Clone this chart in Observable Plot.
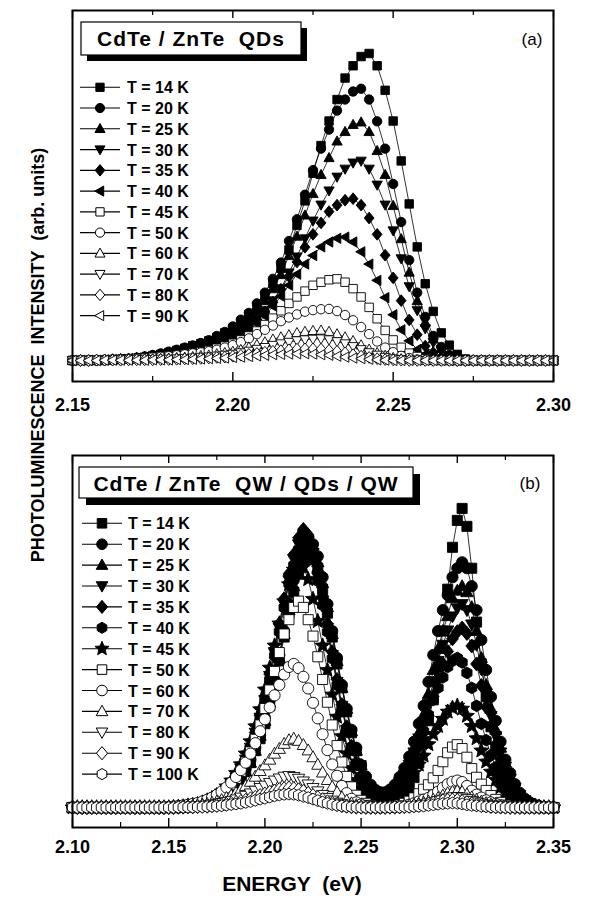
<!DOCTYPE html>
<html><head><meta charset="utf-8">
<script src="https://cdn.jsdelivr.net/npm/d3@7"></script>
<script src="https://cdn.jsdelivr.net/npm/@observablehq/plot@0.6"></script>
<style>
body{margin:0;background:#fff;}
#wrap{position:relative;width:600px;height:898px;overflow:hidden;background:#fff;font-family:"Liberation Sans",Arial,sans-serif;}
#wrap svg{position:absolute;left:0;}
</style></head><body><div id="wrap"></div>
<script>
// ---------- DATA ----------
const energyA = [2.15,2.1525,2.155,2.1575,2.16,2.1625,2.165,2.1675,2.17,2.1725,2.175,2.1775,2.18,2.1825,2.185,2.1875,2.19,2.1925,2.195,2.1975,2.2,2.2025,2.205,2.2075,2.21,2.2125,2.215,2.2175,2.22,2.2225,2.225,2.2275,2.23,2.2325,2.235,2.2375,2.24,2.2425,2.245,2.2475,2.25,2.2525,2.255,2.2575,2.26,2.2625,2.265,2.2675,2.27,2.2725,2.275,2.2775,2.28,2.2825,2.285,2.2875,2.29,2.2925,2.295,2.2975,2.3];
const a14 = [0,0,0,0,0,0.2,0.3,0.5,0.7,1,1.5,2,2.6,3.3,4,4.8,5.5,6.4,7.5,9,10.5,12.5,15,17.5,21,25,30,36,44,52,61,70,78,85,92,96,99,100,96,88,78,65,51,37,25,16,9,5,2,0.5,0,0,0,0,0,0,0,0,0,0,0];
const a20 = [0,0,0,0,0.2,0.3,0.4,0.6,0.9,1.3,1.8,2.3,2.9,3.5,4.2,4.9,5.7,6.6,8,9.3,11.1,13.3,15.5,18.6,22.1,26.6,31.9,38.9,46,54,62,69,75.2,81.4,85,87.6,88.5,85,77.9,69,57.5,45.1,32.7,22.1,14.2,8,4.4,1.8,0.4,0,0,0,0,0,0,0,0,0,0,0,0];
const a25 = [0,0,0,0,0.2,0.2,0.4,0.5,0.8,1.2,1.6,2,2.6,3.1,3.7,4.3,5,5.8,7,8.1,9.7,11.6,13.6,16.3,19.4,23.3,27.9,34.1,40.4,47.3,54.3,60.5,66,71.4,74.5,76.8,77.6,74.5,68.3,60.5,50.4,39.6,28.7,19.4,12.4,7,3.9,1.6,0.4,0,0,0,0,0,0,0,0,0,0,0,0];
const a30 = [0,0,0,0,0.1,0.2,0.3,0.5,0.7,1,1.3,1.7,2.1,2.6,3.1,3.6,4.2,4.9,5.9,6.8,8.1,9.8,11.4,13.7,16.3,19.5,23.4,28.6,33.8,39.7,45.5,50.7,55.3,59.8,62.4,64.4,65,62.4,57.2,50.7,42.3,33.2,24.1,16.3,10.4,5.9,3.3,1.3,0.3,0,0,0,0,0,0,0,0,0,0,0,0];
const a35 = [0,0,0,0.1,0.2,0.3,0.4,0.5,0.8,1.1,1.4,1.7,2.1,2.5,2.9,3.4,4,4.7,5.5,6.6,7.9,9.2,11.1,13.2,15.8,19,23.2,27.4,32.1,36.9,41.1,44.8,48.5,50.6,52.2,52.7,50.6,46.4,41.1,34.3,26.9,19.5,13.2,8.4,4.7,2.6,1.1,0.3,0,0,0,0,0,0,0,0,0,0,0,0,0];
const a40 = [0,0,0.1,0.1,0.2,0.3,0.4,0.6,0.8,1,1.3,1.6,1.9,2.2,2.6,3,3.6,4.2,5,6,7,8.4,10,12.1,14.5,17.7,20.9,24.5,28.1,31.4,34.2,37,38.6,39.8,40.2,38.6,35.4,31.4,26.1,20.5,14.9,10,6.4,3.6,2,0.8,0.2,0,0,0,0,0,0,0,0,0,0,0,0,0,0];
const a45 = [0,0.1,0.1,0.1,0.2,0.3,0.4,0.5,0.7,0.9,1.1,1.3,1.5,1.7,2,2.4,2.8,3.3,4,4.7,5.6,6.7,8,9.6,11.7,13.8,16.2,18.6,20.7,22.6,24.5,25.5,26.3,26.6,25.5,23.4,20.7,17.3,13.6,9.8,6.7,4.3,2.4,1.3,0.5,0.1,0,0,0,0,0,0,0,0,0,0,0,0,0,0,0];
const a50 = [0,0.1,0.1,0.2,0.2,0.3,0.4,0.5,0.6,0.8,1,1.2,1.4,1.7,2,2.3,2.6,3,3.5,4.2,5,6,7.2,8.6,10,11.4,12.8,14,15,15.9,16.4,16.7,16.8,16.1,14.8,13.1,10.9,8.6,6.2,4.2,2.7,1.5,0.8,0.3,0.1,0,0,0,0,0,0,0,0,0,0,0,0,0,0,0,0];
const a60 = [0,0.1,0.1,0.1,0.2,0.2,0.3,0.3,0.4,0.5,0.5,0.6,0.7,0.9,1,1.2,1.5,1.7,2.1,2.5,2.9,3.5,4.3,5.1,6,6.9,7.6,8.3,9,9.4,9.7,9.8,9.4,8.6,7.6,6.4,5,3.6,2.5,1.6,0.9,0.5,0.2,0.1,0,0,0,0,0,0,0,0,0,0,0,0,0,0,0,0,0];
const a70 = [0,0,0.1,0.1,0.1,0.1,0.2,0.2,0.3,0.3,0.4,0.5,0.5,0.6,0.7,0.9,1.1,1.2,1.5,1.8,2.1,2.6,3.1,3.7,4.3,5,5.5,6,6.5,6.8,7,7.1,6.8,6.2,5.5,4.6,3.6,2.6,1.8,1.1,0.6,0.4,0.1,0,0,0,0,0,0,0,0,0,0,0,0,0,0,0,0,0,0];
const a80 = [0,0,0,0.1,0.1,0.1,0.1,0.2,0.2,0.2,0.2,0.3,0.3,0.4,0.5,0.6,0.7,0.8,1,1.1,1.4,1.7,2,2.3,2.7,3,3.2,3.5,3.7,3.8,3.8,3.7,3.3,3,2.5,1.9,1.4,1,0.6,0.3,0.2,0.1,0,0,0,0,0,0,0,0,0,0,0,0,0,0,0,0,0,0,0];
const a90 = [0,0,0,0,0.1,0.1,0.1,0.1,0.1,0.1,0.2,0.2,0.2,0.3,0.3,0.4,0.5,0.6,0.7,0.8,1,1.1,1.3,1.5,1.7,1.9,2,2.1,2.2,2.2,2.1,1.9,1.7,1.4,1.1,0.8,0.6,0.4,0.2,0.1,0,0,0,0,0,0,0,0,0,0,0,0,0,0,0,0,0,0,0,0,0];

const energyB = [2.1,2.1025,2.105,2.1075,2.11,2.1125,2.115,2.1175,2.12,2.1225,2.125,2.1275,2.13,2.1325,2.135,2.1375,2.14,2.1425,2.145,2.1475,2.15,2.1525,2.155,2.1575,2.16,2.1625,2.165,2.1675,2.17,2.1725,2.175,2.1775,2.18,2.1825,2.185,2.1875,2.19,2.1925,2.195,2.1975,2.2,2.2025,2.205,2.2075,2.21,2.2125,2.215,2.2175,2.22,2.2225,2.225,2.2275,2.23,2.2325,2.235,2.2375,2.24,2.2425,2.245,2.2475,2.25,2.2525,2.255,2.2575,2.26,2.2625,2.265,2.2675,2.27,2.2725,2.275,2.2775,2.28,2.2825,2.285,2.2875,2.29,2.2925,2.295,2.2975,2.3,2.3025,2.305,2.3075,2.31,2.3125,2.315,2.3175,2.32,2.3225,2.325,2.3275,2.33,2.3325,2.335,2.3375,2.34,2.3425,2.345,2.3475,2.35];
const b14 = [0,0,0,0,0,0,0,0,0,0,0,0,0,0,0,0,0,0,0,0,0,0,0,0.1,0.2,0.3,0.6,0.9,1.2,1.7,2.4,3.3,4.3,5.6,7.3,9.5,12,15,19,23,28,34,41,49,57,65,72,78,83,86,84,80,73,65,57,48,40,32,25,19,14,9.5,6.5,4.3,3,2.1,1.8,2.1,2.8,4.2,6.5,10,15,22,29,36,47,59,73,87,96,100,94,80,62,48,37,27,19,13,8,4,2,0.8,0.3,0.1,0,0,0,0,0];
const b20 = [0,0,0,0,0,0,0,0,0,0,0,0,0,0,0,0,0,0,0,0,0,0,0,0.1,0.2,0.4,0.6,0.9,1.3,1.8,2.5,3.4,4.5,5.9,7.7,9.9,13,16,20,24,30,36,43,51,59,68,76,82,87,90,88,84,77,68,59,50,41,33,26,20,14.2,10.4,7.6,5.9,5.1,5.1,6,7.6,10.2,13.2,17,22,28,34,42,51,59,66,71,77,80,82,80,74,66,56,46,37,29,22,16,11.5,7.8,4.9,3,1.8,1,0.5,0.2,0.1,0];
const b25 = [0,0,0,0,0,0,0,0,0,0,0,0,0,0,0,0,0,0,0,0,0,0,0,0.1,0.2,0.4,0.6,0.9,1.2,1.8,2.5,3.3,4.4,5.7,7.5,9.7,12,15,19,24,29,35,42,50,58,66,74,80,85,88,86,82,75,67,58,49,40,33,25.5,19,14.2,10.1,7.3,5.7,4.8,4.8,5.5,6.9,9.3,12.2,15.5,20,25,31,38,46,53,59,64,70,72.5,74,72,67,59,50,41,33,26,20,15,10.4,7,4.4,2.7,1.6,0.9,0.4,0.2,0.1,0];
const b30 = [0,0,0,0,0,0,0,0,0,0,0,0,0,0,0,0,0,0,0,0,0,0,0.1,0.2,0.4,0.6,0.9,1.3,1.8,2.5,3.5,4.6,5.9,7.7,10,13,16,20,25,30,36,44,52,60,68,76,83,88,91,89,85,77,69,60,51,42,34,26,20,14.7,10.2,7.2,5.3,4.1,3.6,3.8,4.7,6.2,8.4,10.9,14.3,18.4,23.1,28.6,34.7,42.2,49,54.4,59.2,63.9,66.6,68,66,61.2,54.4,46.2,38.1,30.6,23.8,18.4,13.6,9.5,6.5,4.1,2.5,1.5,0.8,0.4,0.2,0.1,0];
const b35 = [0,0,0,0,0,0,0,0,0,0,0,0,0,0,0,0,0,0,0,0,0,0,0.1,0.2,0.4,0.7,0.9,1.3,1.9,2.6,3.5,4.7,6,7.9,10.2,13,16.3,20.5,25.1,30.7,37.2,44.6,53,61.4,69.8,78.1,84.6,90.2,93,91.1,86.5,79,70.7,61.4,52.1,42.8,34.4,27,20.5,15,10.4,7.4,5.3,4,3.5,3.5,4.3,5.5,7.4,9.6,12.6,16.2,20.4,25.2,30.6,37.2,43.2,48,52.2,56.4,58.8,60,58.2,54,48,40.8,33.6,27,21,16.2,12,8.4,5.7,3.6,2.2,1.3,0.7,0.4,0.2,0.1,0];
const b40 = [0,0,0,0,0,0,0,0,0,0,0,0,0,0,0,0,0,0,0,0,0,0,0.1,0.2,0.4,0.6,0.9,1.2,1.8,2.5,3.4,4.5,5.8,7.6,9.8,12.5,15.6,19.6,24,29.4,35.6,42.7,50.7,58.7,66.8,74.8,81,86.3,89,87.2,82.8,75.7,67.6,58.7,49.8,40.9,32.9,25.8,19.7,14.4,10.1,7.2,5.4,4.2,3.8,4.1,4.9,6.4,8.2,10.5,13.5,17,21,25.5,31,36,40,43.5,47,49,50,48.5,45,40,34,28,22.5,17.5,13.5,10,7,4.8,3,1.9,1.1,0.6,0.3,0.2,0.1,0,0];
const b45 = [0,0,0,0,0,0,0,0,0,0,0,0,0,0,0,0,0,0,0,0,0,0.1,0.2,0.3,0.6,0.8,1.1,1.6,2.3,3.1,4.1,5.3,7,9,11.5,14.4,18,22.1,27.1,32.8,39.4,46.7,54.1,61.5,68.9,74.6,79.5,82,80.4,76.3,69.7,62.3,54.1,45.9,37.7,30.3,23.8,18,13.1,9.1,6.4,4.4,3.2,2.5,2.4,2.6,3.2,4.3,5.4,7.1,9.2,11.6,14.3,17.3,21.1,24.5,27.2,29.6,32,33.3,34,33,30.6,27.2,23.1,19,15.3,11.9,9.2,6.8,4.8,3.2,2,1.3,0.7,0.4,0.2,0.1,0,0,0];
const b50 = [0,0,0,0,0,0,0,0,0,0,0,0,0,0,0,0,0,0,0,0,0,0.1,0.1,0.3,0.5,0.7,1,1.4,1.9,2.6,3.5,4.5,5.9,7.6,9.7,12.1,15.2,18.6,22.8,27.6,33.1,39.3,45.5,51.8,58,62.8,66.9,69,66.9,62.8,57.3,50.4,42.8,35.2,27.6,20.7,15.2,10.4,6.9,4.1,2.4,1.4,0.7,0.3,0.2,0.2,0.3,0.5,0.8,1.4,2.1,3.2,4.6,6.1,7.6,9.9,12.4,15.3,18.3,20.2,21,19.7,16.8,13,10.1,7.8,5.7,4,2.7,1.7,0.8,0.4,0.2,0.1,0,0,0,0,0,0,0];
const b60 = [0,0,0,0,0,0,0,0,0,0,0,0,0,0,0,0,0,0,0,0,0.2,0.3,0.5,0.7,0.9,1.2,1.5,2,2.6,3.3,4.2,5.3,6.7,8.3,10.2,12.5,15,18,21.5,25.5,29.5,33.5,37.5,41,44.5,47,48,46.6,43.7,39.8,35,29.8,24.5,19.2,14.4,10.6,7.2,4.8,2.9,1.7,1,0.5,0.2,0.1,0,0.1,0.1,0.2,0.4,0.6,0.9,1.4,2,2.6,3.2,4.2,5.3,6.6,7.8,8.6,9,8.5,7.2,5.6,4.3,3.3,2.4,1.7,1.2,0.7,0.4,0.2,0.1,0,0,0,0,0,0,0,0];
const b70 = [0,0,0,0,0,0,0,0,0,0,0,0,0,0,0,0,0,0,0,0,0.1,0.1,0.2,0.3,0.4,0.6,0.7,1,1.2,1.6,2,2.5,3.2,4,4.9,6,7.2,8.6,10.3,12.2,14.1,16,18,19.6,21.3,22.5,23,22.3,20.9,19.1,16.8,14.3,11.7,9.2,6.9,5.1,3.4,2.3,1.4,0.8,0.5,0.2,0.1,0,0,0,0.1,0.1,0.2,0.4,0.6,0.8,1.2,1.6,2,2.6,3.2,4,4.8,5.3,5.5,5.2,4.4,3.4,2.6,2,1.5,1,0.7,0.4,0.2,0.1,0,0,0,0,0,0,0,0,0];
const b80 = [0,0,0,0,0,0,0,0,0,0,0,0,0,0,0,0,0,0,0,0,0.1,0.1,0.2,0.2,0.3,0.3,0.4,0.6,0.7,0.9,1.2,1.5,1.8,2.2,2.7,3.3,3.9,4.7,5.6,6.5,7.3,8.2,9,9.7,10.3,10.5,10.2,9.6,8.7,7.7,6.5,5.4,4.2,3.2,2.3,1.6,1.1,0.6,0.4,0.2,0.1,0,0,0,0,0,0.1,0.1,0.1,0.2,0.4,0.5,0.8,1,1.3,1.6,2.1,2.6,3,3.4,3.5,3.3,2.8,2.2,1.7,1.3,0.9,0.7,0.5,0.3,0.1,0.1,0,0,0,0,0,0,0,0,0];
const b90 = [0,0,0,0,0,0,0,0,0,0,0,0,0,0,0,0,0,0,0,0,0,0.1,0.1,0.1,0.2,0.2,0.3,0.4,0.4,0.6,0.7,0.9,1.1,1.4,1.7,2,2.4,2.9,3.4,4,4.5,5.1,5.5,6,6.3,6.5,6.3,5.9,5.4,4.7,4,3.3,2.6,1.9,1.4,1,0.6,0.4,0.2,0.1,0.1,0,0,0,0,0,0.1,0.1,0.2,0.3,0.4,0.6,0.7,0.9,1.2,1.5,1.8,2.2,2.4,2.5,2.4,2,1.6,1.2,0.9,0.7,0.5,0.3,0.2,0.1,0.1,0,0,0,0,0,0,0,0,0,0];
const b100 = [0,0,0,0,0,0,0,0,0,0,0,0,0,0,0,0,0,0,0,0,0,0,0.1,0.1,0.1,0.1,0.2,0.2,0.3,0.4,0.5,0.6,0.8,1,1.2,1.4,1.7,2,2.4,2.8,3.1,3.5,3.9,4.2,4.4,4.5,4.4,4.1,3.7,3.3,2.8,2.3,1.8,1.4,1,0.7,0.5,0.3,0.2,0.1,0,0,0,0,0,0,0,0.1,0.1,0.2,0.2,0.3,0.4,0.5,0.7,0.9,1.1,1.3,1.4,1.5,1.4,1.2,0.9,0.7,0.6,0.4,0.3,0.2,0.1,0.1,0,0,0,0,0,0,0,0,0,0,0];

const ticksA = [2.15, 2.20, 2.25, 2.30];
const minorA = [2.175, 2.225, 2.275];
const ticksB = [2.10, 2.15, 2.20, 2.25, 2.30, 2.35];
const minorB = [2.125, 2.175, 2.225, 2.275, 2.325];

const labelsA = ["T = 14 K","T = 20 K","T = 25 K","T = 30 K","T = 35 K","T = 40 K","T = 45 K","T = 50 K","T = 60 K","T = 70 K","T = 80 K","T = 90 K"];
const labelsB = ["T = 14 K","T = 20 K","T = 25 K","T = 30 K","T = 35 K","T = 40 K","T = 45 K","T = 50 K","T = 60 K","T = 70 K","T = 80 K","T = 90 K","T = 100 K"];
const titleA = "CdTe / ZnTe  QDs";
const titleB = "CdTe / ZnTe  QW / QDs / QW";
const yTitle = "PHOTOLUMINESCENCE  INTENSITY  (arb. units)";
const xTitle = "ENERGY  (eV)";

// keep doubled spaces visible in SVG text
const keepSpaces = s => s.replace(/  /g, " \u00a0");

// ---------- SYMBOLS ----------
const SYM = {
  square: {draw(c, s) { const h = Math.sqrt(s / Math.PI) * 0.9; c.rect(-h, -h, 2 * h, 2 * h); }},
  circle: {draw(c, s) { const r = Math.sqrt(s / Math.PI); c.moveTo(r, 0); c.arc(0, 0, r, 0, 2 * Math.PI); }},
  triUp: {draw(c, s) { const r = Math.sqrt(s / Math.PI) * 1.15; c.moveTo(0, -r); c.lineTo(r * 0.95, r * 0.7); c.lineTo(-r * 0.95, r * 0.7); c.closePath(); }},
  triDown: {draw(c, s) { const r = Math.sqrt(s / Math.PI) * 1.15; c.moveTo(0, r); c.lineTo(r * 0.95, -r * 0.7); c.lineTo(-r * 0.95, -r * 0.7); c.closePath(); }},
  triLeft: {draw(c, s) { const r = Math.sqrt(s / Math.PI) * 1.15; c.moveTo(-r, 0); c.lineTo(r * 0.7, -r * 0.95); c.lineTo(r * 0.7, r * 0.95); c.closePath(); }},
  diamond: {draw(c, s) { const r = Math.sqrt(s / Math.PI); c.moveTo(0, -r * 1.25); c.lineTo(r * 1.05, 0); c.lineTo(0, r * 1.25); c.lineTo(-r * 1.05, 0); c.closePath(); }},
  hexagon: {draw(c, s) { const r = Math.sqrt(s / Math.PI) * 1.05; for (let k = 0; k < 6; k++) { const a = -Math.PI / 2 + k * Math.PI / 3; if (k) c.lineTo(r * Math.cos(a), r * Math.sin(a)); else c.moveTo(r * Math.cos(a), r * Math.sin(a)); } c.closePath(); }},
  star: {draw(c, s) { const r = Math.sqrt(s / Math.PI) * 1.4; for (let k = 0; k < 10; k++) { const a = -Math.PI / 2 + k * Math.PI / 5; const q = k % 2 ? r * 0.45 : r; if (k) c.lineTo(q * Math.cos(a), q * Math.sin(a)); else c.moveTo(q * Math.cos(a), q * Math.sin(a)); } c.closePath(); }}
};

const seriesA = [
  {name: labelsA[0], vals: a14, sym: "square", filled: true},
  {name: labelsA[1], vals: a20, sym: "circle", filled: true},
  {name: labelsA[2], vals: a25, sym: "triUp", filled: true},
  {name: labelsA[3], vals: a30, sym: "triDown", filled: true},
  {name: labelsA[4], vals: a35, sym: "diamond", filled: true},
  {name: labelsA[5], vals: a40, sym: "triLeft", filled: true},
  {name: labelsA[6], vals: a45, sym: "square", filled: false},
  {name: labelsA[7], vals: a50, sym: "circle", filled: false},
  {name: labelsA[8], vals: a60, sym: "triUp", filled: false},
  {name: labelsA[9], vals: a70, sym: "triDown", filled: false},
  {name: labelsA[10], vals: a80, sym: "diamond", filled: false},
  {name: labelsA[11], vals: a90, sym: "triLeft", filled: false}
];
const seriesB = [
  {name: labelsB[0], vals: b14, sym: "square", filled: true},
  {name: labelsB[1], vals: b20, sym: "circle", filled: true},
  {name: labelsB[2], vals: b25, sym: "triUp", filled: true},
  {name: labelsB[3], vals: b30, sym: "triDown", filled: true},
  {name: labelsB[4], vals: b35, sym: "diamond", filled: true},
  {name: labelsB[5], vals: b40, sym: "hexagon", filled: true},
  {name: labelsB[6], vals: b45, sym: "star", filled: true},
  {name: labelsB[7], vals: b50, sym: "square", filled: false},
  {name: labelsB[8], vals: b60, sym: "circle", filled: false},
  {name: labelsB[9], vals: b70, sym: "triUp", filled: false},
  {name: labelsB[10], vals: b80, sym: "triDown", filled: false},
  {name: labelsB[11], vals: b90, sym: "diamond", filled: false},
  {name: labelsB[12], vals: b100, sym: "hexagon", filled: false}
];

const FONT = "'Liberation Sans', Arial, Helvetica, sans-serif";

function buildPanel(series, energy, cfg) {
  series.forEach(s => { if (s.vals.length !== energy.length) throw new Error(s.name + " length " + s.vals.length + " vs " + energy.length); });
  const innerH = cfg.height - cfg.mt - cfg.mb;
  const marks = [];
  series.forEach(s => {
    const rows = energy.map((e, i) => ({e, v: s.vals[i]}));
    marks.push(Plot.line(rows, {x: "e", y: "v", stroke: "black", strokeWidth: 0.8}));
    marks.push(Plot.dot(rows, {x: "e", y: "v", symbol: SYM[s.sym], r: cfg.r, fill: s.filled ? "black" : "white", stroke: "black", strokeWidth: 0.9}));
  });
  marks.push(Plot.ruleX(cfg.major, {stroke: "black", strokeWidth: 1.4, insetTop: innerH - 9}));
  marks.push(Plot.ruleX(cfg.major, {stroke: "black", strokeWidth: 1.4, insetBottom: innerH - 8}));
  marks.push(Plot.ruleX(cfg.minor, {stroke: "black", strokeWidth: 1.2, insetTop: innerH - 5}));
  marks.push(Plot.ruleX(cfg.minor, {stroke: "black", strokeWidth: 1.2, insetBottom: innerH - 5}));
  marks.push(Plot.frame({stroke: "black", strokeWidth: 2}));
  marks.push(Plot.axisX({ticks: cfg.major, anchor: "bottom", tickSize: 0, tickPadding: cfg.pad, tickFormat: d3.format(".2f"), fontSize: 18, fontWeight: "bold", fontFamily: FONT, label: null}));
  return Plot.plot({
    width: 600, height: cfg.height,
    marginLeft: 72, marginRight: 47, marginTop: cfg.mt, marginBottom: cfg.mb,
    x: {domain: cfg.xd},
    y: {domain: cfg.yd, axis: null},
    style: {fontFamily: FONT, background: "transparent", overflow: "visible"},
    marks
  });
}

function addDecor(svg, series, cfg) {
  const g = d3.select(svg).append("g").attr("font-family", FONT).attr("text-anchor", "start");
  // title box with shadow
  g.append("rect").attr("x", cfg.box.x + cfg.box.off).attr("y", cfg.box.y + cfg.box.off)
    .attr("width", cfg.box.w).attr("height", cfg.box.h).attr("fill", "black");
  g.append("rect").attr("x", cfg.box.x).attr("y", cfg.box.y).attr("width", cfg.box.w).attr("height", cfg.box.h)
    .attr("fill", "white").attr("stroke", "black").attr("stroke-width", 1.2);
  g.append("text").attr("x", cfg.box.x + cfg.box.w / 2).attr("y", cfg.box.ty).attr("text-anchor", "middle")
    .attr("font-size", 21).attr("font-weight", "bold").attr("letter-spacing", "1px").text(keepSpaces(cfg.box.text));
  // panel letter
  g.append("text").attr("x", cfg.tag.x).attr("y", cfg.tag.y).attr("text-anchor", "middle")
    .attr("font-size", 17).text(cfg.tag.text);
  // legend
  series.forEach((s, k) => {
    const y = cfg.leg.y0 + k * cfg.leg.dy;
    g.append("line").attr("x1", cfg.leg.x1).attr("x2", cfg.leg.x2).attr("y1", y).attr("y2", y)
      .attr("stroke", "black").attr("stroke-width", 1.1);
    g.append("path").attr("transform", `translate(${cfg.leg.xs},${y})`)
      .attr("d", d3.symbol(SYM[s.sym], Math.PI * cfg.leg.r * cfg.leg.r)())
      .attr("fill", s.filled ? "black" : "white").attr("stroke", "black").attr("stroke-width", 1);
    g.append("text").attr("x", cfg.leg.xt).attr("y", y + 6).attr("text-anchor", "start")
      .attr("font-size", 16).attr("font-weight", "bold").text(s.name);
  });
}

const wrap = document.getElementById("wrap");

const svgA = buildPanel(seriesA, energyA, {height: 420, mt: 10, mb: 39, xd: [2.15, 2.30], yd: [-6.84, 114.0], r: 4.7, major: ticksA, minor: minorA, pad: 17});
addDecor(svgA, seriesA, {
  box: {x: 81, y: 22, w: 220, h: 33, off: 6, ty: 46, text: titleA},
  tag: {x: 532, y: 45, text: "(a)"},
  leg: {y0: 87.3, dy: 20.76, x1: 80, x2: 120, xs: 100, xt: 127, r: 4.6}
});
svgA.style.top = "0px";
wrap.appendChild(svgA);

const svgB = buildPanel(seriesB, energyB, {height: 478, mt: 35, mb: 71, xd: [2.10, 2.35], yd: [-6.69, 117.7], r: 5.6, major: ticksB, minor: minorB, pad: 13});
addDecor(svgB, seriesB, {
  box: {x: 79, y: 47, w: 334, h: 31, off: 7, ty: 71, text: titleB},
  tag: {x: 530, y: 69, text: "(b)"},
  leg: {y0: 103.3, dy: 20.9, x1: 82, x2: 122, xs: 102, xt: 128, r: 5.3}
});
svgB.style.top = "420px";
wrap.appendChild(svgB);

// axis titles overlay
const ov = d3.select(wrap).append("svg").attr("width", 600).attr("height", 898)
  .style("top", "0px").style("pointer-events", "none").attr("font-family", FONT);
ov.append("text").attr("transform", "translate(43.5,355) rotate(-90)").attr("text-anchor", "middle")
  .attr("font-size", 18).attr("font-weight", "bold").text(keepSpaces(yTitle));
ov.append("text").attr("x", 292).attr("y", 891).attr("text-anchor", "middle")
  .attr("font-size", 21).attr("font-weight", "bold").text(keepSpaces(xTitle));
</script>
</body></html>
